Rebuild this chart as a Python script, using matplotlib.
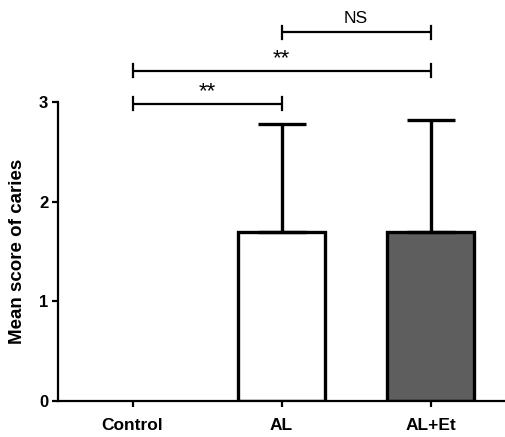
import matplotlib
matplotlib.use("Agg")
import matplotlib.pyplot as plt

plt.rcParams['font.family'] = ['Liberation Sans', 'DejaVu Sans']

categories = ['Control', 'AL', 'AL+Et']
means = [0.0, 1.69, 1.69]
sds = [0.0, 1.09, 1.13]
colors = ['white', 'white', '#5e5e5e']
comparisons = [(0, 1, 2.98, '**'), (0, 2, 3.31, '**'), (1, 2, 3.70, 'NS')]
yticks = [0, 1, 2, 3]

fig = plt.figure(figsize=(5.05, 4.37), dpi=100)
ax = fig.add_axes([0.1149, 0.0824, 0.8851, 0.9126])

x = list(range(len(categories)))
lws = [2.4 if m > 0 else 0 for m in means]
ax.bar(x, means, width=0.59, color=colors, edgecolor='black', linewidth=lws, zorder=2)
ex = [xi for xi, s in zip(x, sds) if s > 0]
ey = [m for m, s in zip(means, sds) if s > 0]
es = [s for s in sds if s > 0]
ax.errorbar(ex, ey, yerr=[[0] * len(es), es], fmt='none', ecolor='black',
            elinewidth=2.4, capsize=17, capthick=2.4, zorder=3)

ax.set_xlim(-0.5, 2.5)
ax.set_ylim(0, 4.0)
ax.spines['top'].set_visible(False)
ax.spines['right'].set_visible(False)
ax.spines['left'].set_bounds(0, 3)
ax.spines['left'].set_linewidth(1.6)
ax.spines['bottom'].set_linewidth(1.6)
ax.set_yticks(yticks)
ax.set_yticklabels([str(t) for t in yticks], fontweight='bold', fontsize=12)
ax.set_xticks(x)
ax.set_xticklabels(categories, fontweight='bold', fontsize=12.5)
ax.tick_params(axis='both', direction='out', length=4, width=1.6, pad=8)
ax.tick_params(axis='y', pad=3)
ax.set_ylabel('Mean score of caries', fontweight='bold', fontsize=13.5)
ax.yaxis.set_label_coords(-0.072, 1.5 / 4.0)

h = 0.065
for a, b, y, lab in comparisons:
    ax.plot([a, b], [y, y], color='black', lw=1.6, clip_on=False, solid_capstyle='butt')
    ax.plot([a, a], [y - h, y + h], color='black', lw=1.6, clip_on=False)
    ax.plot([b, b], [y - h, y + h], color='black', lw=1.6, clip_on=False)
    if lab == 'NS':
        ax.text((a + b) / 2, y + 0.06, lab, ha='center', va='bottom', fontsize=12.5, clip_on=False)
    else:
        ax.text((a + b) / 2, y + 0.02, lab, ha='center', va='bottom', fontsize=16, clip_on=False)

fig.savefig('out.png', dpi=100)
